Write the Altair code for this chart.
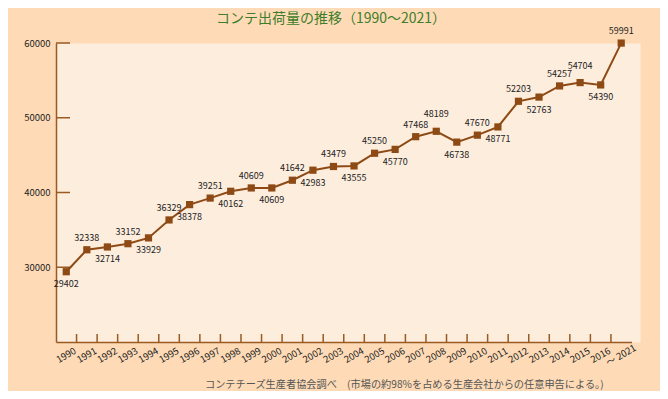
import altair as alt
import pandas as pd

years = ["1990", "1991", "1992", "1993", "1994", "1995", "1996", "1997", "1998",
         "1999", "2000", "2001", "2002", "2003", "2004", "2005", "2006", "2007",
         "2008", "2009", "2010", "2011", "2012", "2013", "2014", "2015", "2016",
         "～ 2021"]
values = [29402, 32338, 32714, 33152, 33929, 36329, 38378, 39251, 40162,
          40609, 40609, 41642, 42983, 43479, 43555, 45250, 45770, 47468,
          48189, 46738, 47670, 48771, 52203, 52763, 54257, 54704, 54390,
          59991]
label_side = ["below", "above", "below", "above", "below", "above", "below",
              "above", "below", "above", "below", "above", "below", "above",
              "below", "above", "below", "above", "high", "below", "above",
              "below", "above", "below", "above", "high", "below", "above"]
y_ticks = [30000, 40000, 50000, 60000]

title_text = "コンテ出荷量の推移（1990～2021）"
note_text = "コンテチーズ生産者協会調べ　(市場の約98%を占める生産会社からの任意申告による。)"

FONT = "Noto Sans CJK JP"
BROWN = "#8E4A14"
AXIS = "#9A5A22"

df = pd.DataFrame({"year": years, "value": values, "side": label_side})
ticks_df = pd.DataFrame({"v": y_ticks})
note_df = pd.DataFrame({"t": [note_text]})
title_df = pd.DataFrame({"t": [title_text]})

x_enc = alt.X(
    "year:N",
    scale=alt.Scale(type="band", domain=years, range=[0, 575.5],
                    paddingInner=0, paddingOuter=0),
    axis=alt.Axis(title=None, labelAngle=330, labelAlign="center",
                  labelBaseline="middle", labelPadding=13, ticks=False,
                  labelFontSize=9.5),
)
y_enc = alt.Y(
    "value:Q",
    scale=alt.Scale(domain=[20000, 60000], nice=False, zero=False),
    axis=alt.Axis(title=None, values=y_ticks, ticks=False, labelPadding=6,
                  labelFontSize=9.5, format="d"),
)

base = alt.Chart(df)
line = base.mark_line(color=BROWN, strokeWidth=2).encode(x=x_enc, y=y_enc)
pts = base.mark_point(shape="square", filled=True, size=52, color=BROWN,
                      opacity=1).encode(x=x_enc, y=y_enc)


def labels(side, dy):
    return base.transform_filter(alt.datum.side == side).mark_text(
        dy=dy, fontSize=9, color="#222222", font=FONT, baseline="middle"
    ).encode(x=x_enc, y=y_enc, text=alt.Text("value:Q", format="d"))


lab_up = labels("above", -12)
lab_hi = labels("high", -17)
lab_dn = labels("below", 12.5)

ytick_rules = alt.Chart(ticks_df).mark_rule(color=AXIS, strokeWidth=1.5).encode(
    y=alt.Y("v:Q"), x=alt.value(0), x2=alt.value(14)
)
xtick_rules = base.transform_filter(alt.datum.year != years[0]).mark_rule(
    color=AXIS, strokeWidth=1.5
).encode(
    x=alt.X("year:N", bandPosition=0), y=alt.value(291), y2=alt.value(299)
)
note = alt.Chart(note_df).mark_text(
    align="left", baseline="middle", fontSize=10.2, color="#555555", font=FONT
).encode(text="t:N", x=alt.value(149), y=alt.value(342))
title = alt.Chart(title_df).mark_text(
    align="center", baseline="middle", fontSize=14, color="#3F7D2A", font=FONT
).encode(text="t:N", x=alt.value(275), y=alt.value(-24))

chart = alt.layer(
    ytick_rules, xtick_rules, line, pts, lab_up, lab_hi, lab_dn, note, title
).properties(
    width=584,
    height=299,
    autosize=alt.AutoSizeParams(type="none"),
    padding={"left": 48, "top": 35, "right": 20, "bottom": 49},
    background="#FEDBB6",
).configure_view(
    fill="#FDEDDD", stroke="transparent"
).configure_axis(
    domainColor=AXIS, domainWidth=1.5, grid=False, labelColor="#222222",
    labelFont=FONT
)

chart.save("out.html", embed_options={"renderer": "svg", "actions": False})
